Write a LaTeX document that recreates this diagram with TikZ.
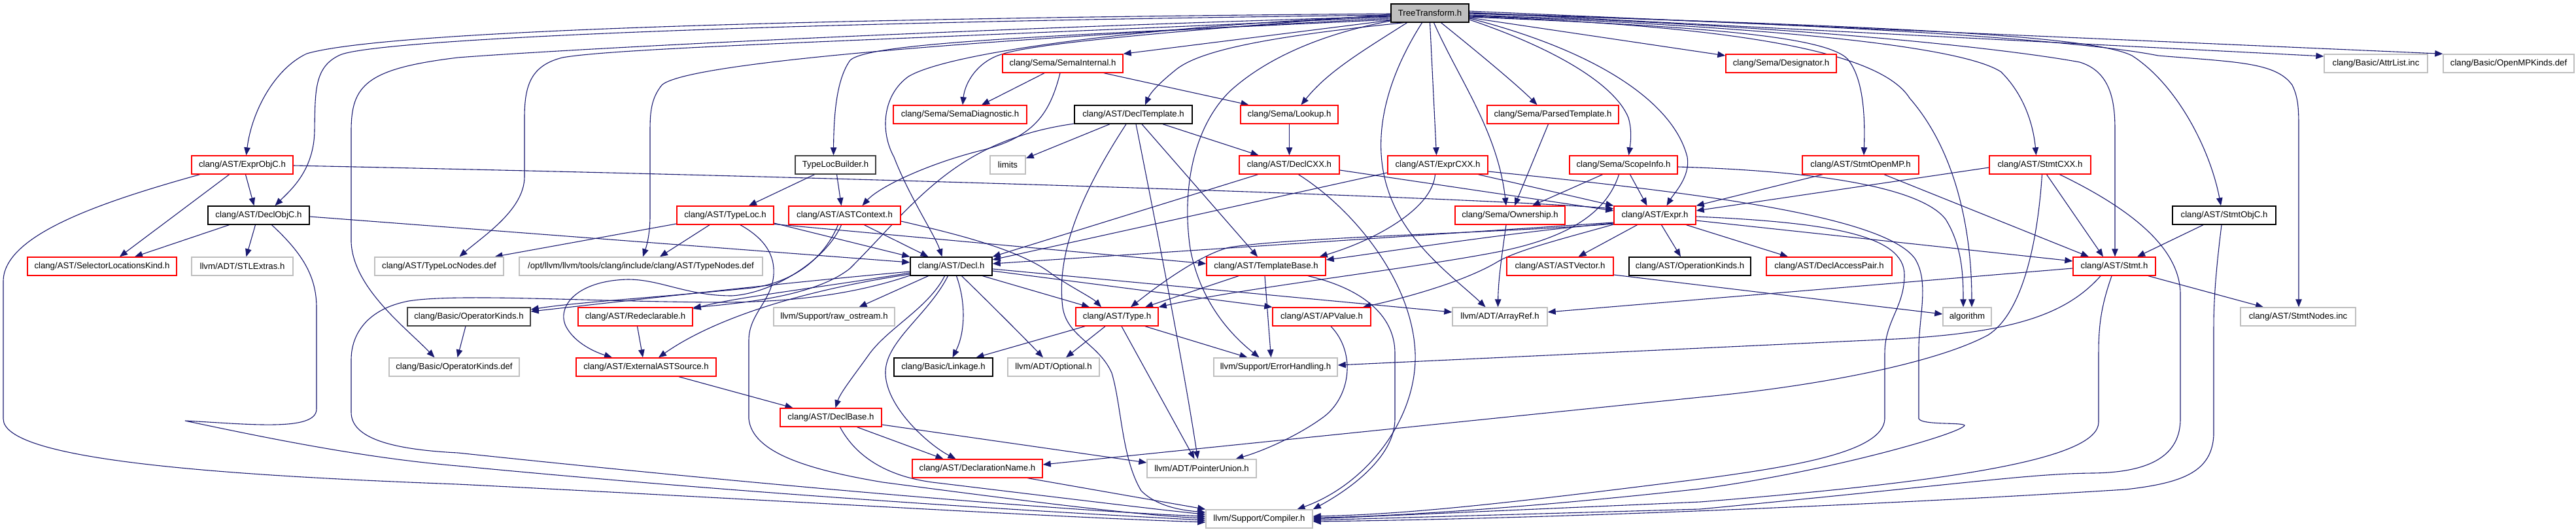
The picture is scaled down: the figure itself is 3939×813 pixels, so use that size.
\documentclass[tikz,border=0pt]{standalone}
\usepackage{fontspec}
\setmainfont{Liberation Sans}
\usetikzlibrary{arrows.meta,backgrounds}
\definecolor{edgecol}{HTML}{191970}
\definecolor{redb}{HTML}{FF0000}
\definecolor{grayb}{HTML}{BFBFBF}
\definecolor{darkb}{HTML}{404040}
\definecolor{rootfill}{HTML}{BFBFBF}
\tikzset{
  box/.style={draw, line width=1.4pt, minimum height=28pt, inner sep=0pt, fill=white, font=\fontsize{13.2pt}{15pt}\selectfont},
  rbox/.style={box, draw=redb},
  gbox/.style={box, draw=grayb},
  kbox/.style={box, draw=black},
  dbox/.style={box, draw=darkb},
  rootbox/.style={box, draw=black, fill=rootfill},
  e/.style={draw=edgecol, line width=1.1pt, -{Triangle[length=12pt,width=9.5pt]}}
}
\begin{document}
\begin{tikzpicture}[x=1pt,y=-1pt]
\useasboundingbox (0,0) rectangle (3939,813);
% nodes
\node[rootbox, minimum width=119pt] (root) at (2186.5,20) {TreeTransform.h};
\node[rbox, minimum width=155pt] (eobjc) at (370.5,252) {clang/AST/ExprObjC.h};
\node[kbox, minimum width=155pt] (dobjc) at (395.5,329) {clang/AST/DeclObjC.h};
\node[rbox, minimum width=228pt] (slk) at (156,407) {clang/AST/SelectorLocationsKind.h};
\node[gbox, minimum width=155pt] (stl) at (370.5,407) {llvm/ADT/STLExtras.h};
\node[gbox, minimum width=197pt] (tlnd) at (671.5,407) {clang/AST/TypeLocNodes.def};
\node[gbox, minimum width=372pt] (tnd) at (980,407) {/opt/llvm/llvm/tools/clang/include/clang/AST/TypeNodes.def};
\node[dbox, minimum width=123pt] (tlb) at (1277.5,252) {TypeLocBuilder.h};
\node[rbox, minimum width=148pt] (tloc) at (1109,329) {clang/AST/TypeLoc.h};
\node[rbox, minimum width=171pt] (astctx) at (1291.5,329) {clang/AST/ASTContext.h};
\node[dbox, minimum width=188pt] (opk) at (717,484) {clang/Basic/OperatorKinds.h};
\node[gbox, minimum width=199pt] (opkd) at (694.5,561) {clang/Basic/OperatorKinds.def};
\node[rbox, minimum width=175pt] (redecl) at (971.5,484) {clang/AST/Redeclarable.h};
\node[rbox, minimum width=214pt] (extsrc) at (988,561) {clang/AST/ExternalASTSource.h};
\node[gbox, minimum width=185pt] (rawos) at (1275.5,484) {llvm/Support/raw\_ostream.h};
\node[rbox, minimum width=155pt] (declbase) at (1270.5,638) {clang/AST/DeclBase.h};
\node[rbox, minimum width=184pt] (semaint) at (1625,97) {clang/Sema/SemaInternal.h};
\node[rbox, minimum width=204pt] (semadiag) at (1468,175) {clang/Sema/SemaDiagnostic.h};
\node[kbox, minimum width=180pt] (decltmpl) at (1733,175) {clang/AST/DeclTemplate.h};
\node[rbox, minimum width=149pt] (lookup) at (1971.5,175) {clang/Sema/Lookup.h};
\node[gbox, minimum width=54pt] (limits) at (1541,252) {limits};
\node[rbox, minimum width=153pt] (declcxx) at (1971.5,252) {clang/AST/DeclCXX.h};
\node[kbox, minimum width=125pt] (decl) at (1454.5,407) {clang/AST/Decl.h};
\node[rbox, minimum width=182pt] (tmplbase) at (1936,407) {clang/AST/TemplateBase.h};
\node[rbox, minimum width=126pt] (type) at (1708,484) {clang/AST/Type.h};
\node[rbox, minimum width=150pt] (apvalue) at (2021,484) {clang/AST/APValue.h};
\node[kbox, minimum width=151pt] (linkage) at (1442.5,561) {clang/Basic/Linkage.h};
\node[gbox, minimum width=140pt] (optional) at (1611,561) {llvm/ADT/Optional.h};
\node[gbox, minimum width=189pt] (errh) at (1950.5,561) {llvm/Support/ErrorHandling.h};
\node[rbox, minimum width=199pt] (declname) at (1494.5,716) {clang/AST/DeclarationName.h};
\node[gbox, minimum width=167pt] (punion) at (1837.5,716) {llvm/ADT/PointerUnion.h};
\node[gbox, minimum width=163pt] (compiler) at (1925.5,793) {llvm/Support/Compiler.h};
\node[rbox, minimum width=201pt] (parsed) at (2374.5,175) {clang/Sema/ParsedTemplate.h};
\node[rbox, minimum width=153pt] (exprcxx) at (2198.5,252) {clang/AST/ExprCXX.h};
\node[rbox, minimum width=165pt] (scope) at (2482.5,252) {clang/Sema/ScopeInfo.h};
\node[rbox, minimum width=168pt] (owner) at (2309,329) {clang/Sema/Ownership.h};
\node[rbox, minimum width=125pt] (expr) at (2530.5,329) {clang/AST/Expr.h};
\node[rbox, minimum width=163pt] (astvec) at (2385.5,407) {clang/AST/ASTVector.h};
\node[kbox, minimum width=186pt] (opkinds) at (2584,407) {clang/AST/OperationKinds.h};
\node[rbox, minimum width=169pt] (desig) at (2723.5,97) {clang/Sema/Designator.h};
\node[gbox, minimum width=145pt] (arrayref) at (2293.5,484) {llvm/ADT/ArrayRef.h};
\node[rbox, minimum width=178pt] (stmtomp) at (2845,252) {clang/AST/StmtOpenMP.h};
\node[rbox, minimum width=155pt] (stmtcxx) at (3119.5,252) {clang/AST/StmtCXX.h};
\node[rbox, minimum width=192pt] (dap) at (2797,407) {clang/AST/DeclAccessPair.h};
\node[rbox, minimum width=126pt] (stmt) at (3233,407) {clang/AST/Stmt.h};
\node[gbox, minimum width=74pt] (algo) at (3008,484) {algorithm};
\node[gbox, minimum width=158pt] (attrl) at (3633,97) {clang/Basic/AttrList.inc};
\node[gbox, minimum width=200pt] (ompk) at (3836,97) {clang/Basic/OpenMPKinds.def};
\node[kbox, minimum width=158pt] (stmtobjc) at (3401,329) {clang/AST/StmtObjC.h};
\node[gbox, minimum width=176pt] (stmtnodes) at (3514,484) {clang/AST/StmtNodes.inc};

\begin{pgfonlayer}{background}
\fill[white] (0,0) rectangle (3939,813);
% ---- root edges
\draw[e] ([yshift=-1pt]root.west) .. controls (1000,30) and (560,55) .. (469,82) .. controls (420,105) and (385,170) .. ([xshift=6pt]eobjc.north);
\draw[e] ([yshift=-3pt]root.west) .. controls (1100,35) and (570,62) .. (520,84) .. controls (480,102) and (482,140) .. (481,200) .. controls (480,260) and (445,290) .. ([xshift=25pt]dobjc.north);
\draw[e] ([yshift=-5pt]root.west) .. controls (1300,50) and (800,80) .. (700,88) .. controls (560,105) and (537,130) .. (537,200) -- (537,370) .. controls (540,440) and (620,500) .. ([xshift=-30pt]opkd.north);
\draw[e] ([yshift=-6pt]root.west) .. controls (1400,60) and (950,72) .. (860,88) .. controls (812,100) and (802,130) .. (802,180) -- (802,270) .. controls (802,320) and (740,360) .. ([xshift=31pt]tlnd.north);
\draw[e] ([yshift=-8pt]root.west) .. controls (1500,60) and (1050,95) .. (1012,130) .. controls (996,150) and (994,170) .. (994,200) -- (994,330) .. controls (994,360) and (988,378) .. ([xshift=3pt]tnd.north);
\draw[e] ([yshift=-10pt]root.west) .. controls (1600,55) and (1330,65) .. (1300,92) .. controls (1280,120) and (1275,170) .. ([xshift=-3pt]tlb.north);
\draw[e] ([yshift=-4pt]root.west) .. controls (1750,40) and (1450,80) .. (1389,117) .. controls (1350,145) and (1345,200) .. (1367,240) .. controls (1390,300) and (1430,360) .. ([xshift=-14pt]decl.north);
\draw[e] ([yshift=-2pt]root.west) .. controls (1700,55) and (1560,70) .. (1523,86) .. controls (1490,100) and (1475,130) .. ([xshift=4pt]semadiag.north);
\draw[e] ([yshift=-11pt]root.west) -- (semaint.north east);
\draw[e] ([xshift=-40pt]root.south) .. controls (1950,55) and (1840,75) .. (1800,105) .. controls (1775,125) and (1760,140) .. ([xshift=18pt]decltmpl.north);
\draw[e] ([xshift=-35pt]root.south) .. controls (2080,80) and (2030,110) .. ([xshift=18pt]lookup.north);
\draw[e] (root.south) -- ([xshift=-2pt]exprcxx.north);
\draw[e] ([xshift=6pt]root.south) .. controls (2230,120) and (2290,200) .. ([xshift=-6pt]owner.north);
\draw[e] ([xshift=17pt]root.south) .. controls (2260,80) and (2320,130) .. ([xshift=-24pt]parsed.north);
\draw[e] ([yshift=-10pt]root.east) .. controls (2380,75) and (2470,130) .. (2490,180) .. controls (2496,200) and (2493,220) .. ([xshift=8pt]scope.north);
\draw[e] ([yshift=-8pt]root.east) .. controls (2450,80) and (2560,160) .. (2580,240) .. controls (2585,270) and (2560,295) .. ([xshift=18pt]expr.north);
\draw[e] ([yshift=-7pt]root.east) -- ([yshift=12pt]desig.west);
\draw[e] ([xshift=-12pt]root.south) .. controls (2120,120) and (2090,220) .. (2130,310) .. controls (2160,380) and (2230,430) .. ([xshift=-22pt]arrayref.north);
\draw[e] ([yshift=-12pt]root.west) .. controls (2030,50) and (1940,85) .. (1880,140) .. controls (1820,200) and (1808,300) .. (1820,380) .. controls (1835,460) and (1880,510) .. ([xshift=-25pt]errh.north);
\draw[e] ([yshift=-6pt]root.east) .. controls (2600,40) and (2790,55) .. (2825,90) .. controls (2850,120) and (2852,180) .. ([xshift=5pt]stmtomp.north);
\draw[e] ([yshift=-5pt]root.east) .. controls (2600,38) and (2870,70) .. (2920,150) .. controls (2990,230) and (3015,350) .. ([xshift=7pt]algo.north);
\draw[e] ([yshift=-4pt]root.east) .. controls (2700,40) and (3000,70) .. (3060,110) .. controls (3100,150) and (3110,200) .. ([xshift=-6pt]stmtcxx.north);
\draw[e] ([yshift=-3pt]root.east) .. controls (2800,40) and (3100,80) .. (3180,95) .. controls (3230,110) and (3234,160) .. (3234,200) -- ([xshift=1pt]stmt.north);
\draw[e] ([yshift=-1pt]root.east) .. controls (2900,40) and (3200,55) .. (3260,85) .. controls (3330,130) and (3380,230) .. ([xshift=-5pt]stmtobjc.north);
\draw[e] (root.east) .. controls (2900,40) and (3200,65) .. (3300,85) .. controls (3420,95) and (3480,95) .. (3505,130) .. controls (3515,150) and (3515,170) .. (3515,200) -- ([xshift=1pt]stmtnodes.north);
\draw[e] ([yshift=1pt]root.east) -- ([yshift=11pt]attrl.west);
\draw[e] ([yshift=3pt]root.east) -- (ompk.north west);
% ---- ExprObjC
\draw[e] ([xshift=5pt]eobjc.south) -- ([xshift=-7pt]dobjc.north);
\draw[e] ([xshift=-20pt]eobjc.south) -- ([xshift=27pt]slk.north);
\draw[e] ([xshift=-65pt]eobjc.south) .. controls (150,310) and (5,360) .. (5,430) -- (5,640) .. controls (5,700) and (300,725) .. (700,740) .. controls (1200,765) and (1600,790) .. ([yshift=-5pt]compiler.west);
\draw[e] ([yshift=-1pt]eobjc.east) .. controls (1500,275) and (2300,305) .. ([yshift=10pt]expr.west);
% ---- DeclObjC
\draw[e] ([xshift=-45pt]dobjc.south) -- ([xshift=50pt]slk.north);
\draw[e] ([xshift=-5pt]dobjc.south) -- ([xshift=6pt]stl.north);
\draw[e] ([yshift=-2pt]dobjc.east) -- ([yshift=6pt]decl.west);
\draw[e] ([xshift=20pt]dobjc.south) .. controls (460,385) and (484,420) .. (484,470) -- (484,625) .. controls (484,660) and (380,648) .. (283,643) .. controls (420,672) and (560,700) .. (700,712) .. controls (1200,760) and (1650,785) .. ([yshift=-2pt]compiler.west);
% ---- TypeLocBuilder
\draw[e] ([xshift=-32pt]tlb.south) -- ([xshift=36pt]tloc.north);
\draw[e] ([xshift=2pt]tlb.south) -- ([xshift=-5pt]astctx.north);
% ---- TypeLoc
\draw[e] ([yshift=-13pt]tloc.west) -- ([xshift=85pt]tlnd.north);
\draw[e] ([xshift=-24pt]tloc.south) -- ([xshift=29pt]tnd.north);
\draw[e] ([yshift=-12pt]tloc.east) -- (decl.north west);
\draw[e] ([yshift=-13.5pt]tloc.east) -- ([yshift=4pt]tmplbase.west);
\draw[e] ([xshift=23pt]tloc.south) .. controls (1170,365) and (1185,390) .. (1183,420) .. controls (1180,460) and (1145,480) .. (1145,520) -- (1145,640) .. controls (1150,690) and (1230,717) .. (1350,737) .. controls (1600,770) and (1750,788) .. ([yshift=1pt]compiler.west);
% ---- ASTContext
\draw[e] ([xshift=30pt]astctx.south) -- ([xshift=-35pt]decl.north);
\draw[e] ([yshift=-9pt]astctx.east) .. controls (1450,355) and (1560,380) .. (1610,420) .. controls (1640,440) and (1670,455) .. ([xshift=-24pt]type.north);
\draw[e] ([xshift=-10pt]astctx.south) .. controls (1262,390) and (1220,430) .. (1150,440) .. controls (1000,455) and (880,462) .. ([yshift=11pt]opk.east);
\draw[e] ([xshift=-5pt]astctx.south) .. controls (1265,395) and (1185,448) .. (1119,452) .. controls (1050,452) and (1010,427) .. (960,427) .. controls (880,429) and (850,470) .. (866,500) .. controls (880,525) and (910,538) .. ([xshift=-52pt]extsrc.north);
% ---- Decl
\draw[e] ([yshift=-8pt]decl.west) .. controls (1200,432) and (1000,455) .. ([yshift=8pt]opk.east);
\draw[e] ([yshift=-10pt]decl.west) .. controls (1250,440) and (1120,455) .. ([yshift=12pt]redecl.east);
\draw[e] ([yshift=-12pt]decl.west) .. controls (1200,448) and (1080,495) .. ([xshift=19pt]extsrc.north);
\draw[e] ([xshift=-35pt]decl.south) -- ([xshift=38pt]rawos.north);
\draw[e] ([xshift=-10pt]decl.south) .. controls (1420,470) and (1360,500) .. (1330,540) .. controls (1305,575) and (1285,600) .. ([xshift=7pt]declbase.north);
\draw[e] ([xshift=-5pt]decl.south) .. controls (1420,480) and (1356,520) .. (1354,567) .. controls (1352,620) and (1420,680) .. ([xshift=-33pt]declname.north);
\draw[e] ([xshift=8pt]decl.south) .. controls (1478,465) and (1475,510) .. ([xshift=14pt]linkage.north);
\draw[e] ([xshift=16pt]decl.south) .. controls (1520,470) and (1560,510) .. ([xshift=-16pt]optional.north);
\draw[e] ([xshift=48pt]decl.south) -- ([xshift=-42pt]type.north);
\draw[e] ([yshift=-7pt]decl.east) -- (apvalue.north west);
\draw[e] ([yshift=-4pt]decl.east) -- ([yshift=7pt]arrayref.west);
\draw[e] ([yshift=-14pt]decl.west) .. controls (1300,452) and (1200,462) .. (1100,462) .. controls (900,461) and (700,448) .. (625,460) .. controls (562,472) and (537,510) .. (537,550) -- (537,630) .. controls (537,670) and (600,687) .. (700,692) .. controls (1200,745) and (1650,782) .. ([yshift=4pt]compiler.west);
% ---- Redeclarable, ExternalASTSource, OperatorKinds
\draw[e] ([xshift=3pt]redecl.south) -- ([xshift=-5pt]extsrc.north);
\draw[e] ([xshift=50pt]extsrc.south) -- ([xshift=-58pt]declbase.north);
\draw[e] ([xshift=-5pt]opk.south) -- ([xshift=5pt]opkd.north);
% ---- DeclBase, DeclarationName
\draw[e] ([xshift=40pt]declbase.south) -- ([xshift=-52pt]declname.north);
\draw[e] ([yshift=-11pt]declbase.east) -- ([yshift=9pt]punion.west);
\draw[e] ([xshift=14pt]declbase.south) .. controls (1310,700) and (1360,730) .. (1434,738) .. controls (1600,758) and (1780,780) .. ([yshift=7pt]compiler.west);
\draw[e] ([xshift=77pt]declname.south) -- (compiler.north west);
% ---- SemaInternal
\draw[e] ([xshift=-28pt]semaint.south) -- ([xshift=33pt]semadiag.north);
\draw[e] ([xshift=-4pt]semaint.south) .. controls (1605,175) and (1580,210) .. (1500,230) .. controls (1420,250) and (1345,285) .. ([xshift=27pt]astctx.north);
\draw[e] ([xshift=63pt]semaint.south) -- ([xshift=-62pt]lookup.north);
% ---- DeclTemplate
\draw[e] ([yshift=-14pt]decltmpl.west) .. controls (1460,215) and (1400,310) .. (1300,410) .. controls (1250,450) and (1150,462) .. ([yshift=14pt]redecl.east);
\draw[e] ([xshift=-36pt]decltmpl.south) -- ([yshift=10pt]limits.east);
\draw[e] ([xshift=-11pt]decltmpl.south) .. controls (1650,300) and (1615,390) .. (1625,470) .. controls (1632,515) and (1680,525) .. (1700,570) .. controls (1715,620) and (1715,700) .. (1745,750) .. controls (1770,775) and (1810,780) .. ([yshift=10pt]compiler.west);
\draw[e] ([xshift=4pt]decltmpl.south) .. controls (1765,330) and (1810,560) .. ([xshift=-6pt]punion.north);
\draw[e] ([xshift=13pt]decltmpl.south) -- ([xshift=-13pt]tmplbase.north);
\draw[e] ([xshift=45pt]decltmpl.south) -- ([xshift=-47pt]declcxx.north);
\draw[e] (lookup.south) -- (declcxx.north);
% ---- DeclCXX
\draw[e] ([xshift=-48pt]declcxx.south) -- (decl.north east);
\draw[e] ([yshift=-8pt]declcxx.east) -- ([yshift=7pt]expr.west);
\draw[e] ([xshift=14pt]declcxx.south) .. controls (2070,320) and (2160,430) .. (2164,540) .. controls (2167,640) and (2090,740) .. ([xshift=58pt]compiler.north);
% ---- TemplateBase
\draw[e] ([xshift=-42pt]tmplbase.south) -- ([xshift=43pt]type.north);
\draw[e] ([xshift=-2pt]tmplbase.south) -- ([xshift=-7pt]errh.north);
\draw[e] ([xshift=64pt]tmplbase.south) .. controls (2080,440) and (2133,480) .. (2133,540) -- (2133,640) .. controls (2133,700) and (2060,750) .. (compiler.north east);
% ---- Type
\draw[e] ([xshift=-49pt]type.south) -- ([xshift=50pt]linkage.north);
\draw[e] ([xshift=-18pt]type.south) -- ([xshift=19pt]optional.north);
\draw[e] ([xshift=7pt]type.south) -- ([xshift=-11pt]punion.north);
\draw[e] ([xshift=43pt]type.south) -- ([xshift=-43pt]errh.north);
% ---- APValue
\draw[e] ([xshift=14pt]apvalue.south) .. controls (2075,540) and (2065,610) .. (2020,640) .. controls (1985,665) and (1935,688) .. ([xshift=52pt]punion.north);
% ---- ExprCXX
\draw[e] ([yshift=-12pt]exprcxx.west) -- ([yshift=10pt]decl.east);
\draw[e] ([xshift=-4pt]exprcxx.south) .. controls (2190,320) and (2100,368) .. ([xshift=-10pt]tmplbase.north east);
\draw[e] ([xshift=62pt]exprcxx.south) -- (expr.north west);
\draw[e] ([yshift=-10pt]exprcxx.east) .. controls (2600,295) and (2880,330) .. (2928,395) .. controls (2950,430) and (2935,480) .. (2934,530) -- (2934,640) .. controls (2940,650) and (3000,645) .. (3004,650) .. controls (3000,662) and (2800,720) .. (2600,747) .. controls (2300,780) and (2100,790) .. ([yshift=2pt]compiler.east);
% ---- Expr
\draw[e] ([xshift=-27pt]expr.south) -- ([xshift=28pt]astvec.north);
\draw[e] ([xshift=10pt]expr.south) -- ([xshift=-14pt]opkinds.north);
\draw[e] ([xshift=48pt]expr.south) -- ([xshift=-63pt]dap.north);
\draw[e] ([yshift=-8pt]expr.east) -- ([yshift=8pt]stmt.west);
\draw[e] ([yshift=-11pt]expr.west) -- ([yshift=4pt]decl.east);
\draw[e] ([yshift=-12pt]expr.west) .. controls (2300,356) and (2100,388) .. ([yshift=10pt]tmplbase.east);
\draw[e] ([yshift=-13pt]expr.west) .. controls (2300,356) and (1980,362) .. (1880,378) .. controls (1840,388) and (1785,425) .. ([xshift=21pt]type.north);
\draw[e] ([yshift=-14pt]expr.west) .. controls (2400,362) and (2320,382) .. (2290,400) .. controls (2240,430) and (2150,455) .. ([xshift=63pt]apvalue.north);
\draw[e] ([yshift=-2pt]expr.east) .. controls (2800,340) and (2912,360) .. (2912,420) .. controls (2912,470) and (2882,490) .. (2882,540) -- (2882,640) .. controls (2880,690) and (2750,712) .. (2600,732) .. controls (2300,770) and (2150,786) .. ([yshift=4pt]compiler.east);
% ---- ScopeInfo, ParsedTemplate, Ownership, ASTVector
\draw[e] ([xshift=-32pt]scope.south) -- ([xshift=34pt]owner.north);
\draw[e] ([xshift=10pt]scope.south) -- ([xshift=-12pt]expr.north);
\draw[e] ([yshift=-3pt]scope.east) .. controls (2800,262) and (2940,290) .. (2975,335) .. controls (3000,375) and (3002,420) .. ([xshift=-6pt]algo.north);
\draw[e] ([xshift=-7pt]scope.south) .. controls (2455,330) and (2390,365) .. (2290,385) .. controls (2150,412) and (1900,440) .. (type.north east);
\draw[e] ([xshift=-7pt]parsed.south) -- ([xshift=7pt]owner.north);
\draw[e] ([xshift=-6pt]owner.south) .. controls (2295,400) and (2291,430) .. ([xshift=-3pt]arrayref.north);
\draw[e] ([yshift=-13pt]astvec.east) -- ([yshift=4pt]algo.west);
% ---- StmtOpenMP
\draw[e] ([xshift=-58pt]stmtomp.south) -- (expr.north east);
\draw[e] ([xshift=36pt]stmtomp.south) -- ([xshift=-39pt]stmt.north);
% ---- StmtCXX
\draw[e] ([yshift=-4pt]stmtcxx.west) -- ([yshift=7pt]expr.east);
\draw[e] ([xshift=10pt]stmtcxx.south) -- ([xshift=-17pt]stmt.north);
\draw[e] ([xshift=3pt]stmtcxx.south) .. controls (3115,380) and (3090,480) .. (3040,512) .. controls (2960,555) and (2780,590) .. (2600,607) -- ([yshift=6pt]declname.east);
\draw[e] ([xshift=30pt]stmtcxx.south) .. controls (3260,320) and (3334,380) .. (3334,450) -- (3334,640) .. controls (3334,695) and (3290,722) .. (3200,723) .. controls (3100,724) and (3000,740) .. (2600,778) -- ([yshift=-2pt]compiler.east);
% ---- StmtObjC
\draw[e] ([xshift=-32pt]stmtobjc.south) -- ([xshift=35pt]stmt.north);
\draw[e] ([xshift=-4pt]stmtobjc.south) .. controls (3390,400) and (3385,450) .. (3385,500) -- (3385,665) .. controls (3382,720) and (3340,738) .. (3250,748) .. controls (2900,770) and (2400,792) .. ([yshift=-4pt]compiler.east);
% ---- Stmt
\draw[e] ([xshift=52pt]stmt.south) -- ([xshift=-53pt]stmtnodes.north);
\draw[e] ([yshift=-3pt]stmt.west) -- ([yshift=7pt]arrayref.east);
\draw[e] ([xshift=-21pt]stmt.south) .. controls (3160,480) and (3080,508) .. (2900,518) -- ([yshift=3pt]errh.east);
\draw[e] ([xshift=-4pt]stmt.south) .. controls (3212,470) and (3209,500) .. (3209,540) -- (3209,645) .. controls (3209,700) and (3000,735) .. (2600,767) -- (compiler.east);
\end{pgfonlayer}
\end{tikzpicture}
\end{document}
